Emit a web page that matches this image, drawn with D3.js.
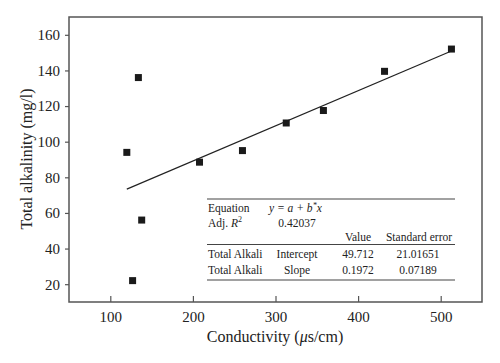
<!DOCTYPE html>
<html>
  <head>
    <meta charset="utf-8" />
    <script src="https://d3js.org/d3.v7.min.js"></script>
    <style>
        body {margin: 0; background: white;}
        text {font-family: "Liberation Serif", "DejaVu Serif", serif; fill: #222;}
    </style>
  </head>
  <body>
    <svg id="viz"></svg>
    <script>
        var width = 500, height = 363;

        // measured points
        var conductivity = [120, 134, 127, 138, 208, 260, 313, 358, 432, 513];
        var alkalinity   = [94, 136, 22, 56, 88.5, 95, 110.5, 117.5, 139.5, 152];
        var xTicks = [100, 200, 300, 400, 500];
        var yTicks = [20, 40, 60, 80, 100, 120, 140, 160];

        // fit result
        var intercept = 49.712, slope = 0.1972;
        var fitRange = [120, 513];
        var tableRows = [
            ["Total Alkali", "Intercept", "49.712", "21.01651"],
            ["Total Alkali", "Slope", "0.1972", "0.07189"]
        ];

        var margin = {left: 69, top: 17, right: 18, bottom: 61};

        var svg = d3.select("#viz")
            .attr("width", width)
            .attr("height", height);

        var x = d3.scaleLinear().domain([50, 550]).range([margin.left, width - margin.right]);
        var y = d3.scaleLinear().domain([10, 170]).range([height - margin.bottom, margin.top]);

        // frame
        svg.append("rect")
            .attr("x", x(50)).attr("y", y(170))
            .attr("width", x(550) - x(50)).attr("height", y(10) - y(170))
            .attr("fill", "none").attr("stroke", "#555").attr("stroke-width", 1.5);

        // x axis, ticks pointing inward
        var xAxis = svg.append("g")
            .attr("transform", "translate(0," + y(10) + ")")
            .call(d3.axisBottom(x).tickValues(xTicks).tickSize(-6).tickPadding(9));
        xAxis.select(".domain").remove();
        xAxis.selectAll("line").attr("stroke", "#555").attr("stroke-width", 1.2);
        xAxis.selectAll("text").attr("font-size", 15).attr("fill", "#222")
            .attr("font-family", "Liberation Serif, serif");

        var yAxis = svg.append("g")
            .attr("transform", "translate(" + x(50) + ",0)")
            .call(d3.axisLeft(y).tickValues(yTicks).tickSize(4).tickPadding(5));
        yAxis.select(".domain").remove();
        yAxis.selectAll("line").attr("stroke", "#555").attr("stroke-width", 1.2);
        yAxis.selectAll("text").attr("font-size", 15).attr("fill", "#222")
            .attr("font-family", "Liberation Serif, serif");

        // axis titles
        var xt = svg.append("text")
            .attr("x", 275).attr("y", 342)
            .attr("text-anchor", "middle").attr("font-size", 16);
        xt.append("tspan").text("Conductivity (");
        xt.append("tspan").attr("font-style", "italic").text("μ");
        xt.append("tspan").text("s/cm)");

        svg.append("text")
            .attr("transform", "translate(32," + 159 + ") rotate(-90)")
            .attr("text-anchor", "middle").attr("font-size", 16)
            .text("Total alkalinity (mg/l)");

        // fit line
        svg.append("line")
            .attr("x1", x(fitRange[0])).attr("y1", y(intercept + slope * fitRange[0]))
            .attr("x2", x(fitRange[1])).attr("y2", y(intercept + slope * fitRange[1]))
            .attr("stroke", "#222").attr("stroke-width", 1.2);

        // markers
        svg.selectAll("rect.pt")
            .data(d3.range(conductivity.length))
            .enter().append("rect")
            .attr("class", "pt")
            .attr("x", function(i) { return x(conductivity[i]) - 3.5; })
            .attr("y", function(i) { return y(alkalinity[i]) - 3.5; })
            .attr("width", 7).attr("height", 7)
            .attr("fill", "#1a1a1a");

        // stats table
        var tb = svg.append("g");
        var tx0 = 207, tx1 = 455;
        [199, 244.5, 280].forEach(function(ly) {
            tb.append("line").attr("x1", tx0).attr("x2", tx1)
                .attr("y1", ly).attr("y2", ly)
                .attr("stroke", "#444").attr("stroke-width", 1.2);
        });
        var fs = 11.5;
        tb.append("text").attr("x", 208).attr("y", 211.5).attr("font-size", fs).text("Equation");
        var eq = tb.append("text").attr("x", 269).attr("y", 211.5).attr("font-size", fs)
            .attr("font-style", "italic");
        eq.append("tspan").text("y = a + b");
        eq.append("tspan").attr("dy", -4).attr("font-size", 8).text("*");
        eq.append("tspan").attr("dy", 4).text("x");

        var r2 = tb.append("text").attr("x", 208).attr("y", 226.5).attr("font-size", fs);
        r2.append("tspan").text("Adj. ");
        r2.append("tspan").attr("font-style", "italic").text("R");
        r2.append("tspan").attr("dy", -5).attr("font-size", 8).text("2");
        tb.append("text").attr("x", 297).attr("y", 226.5).attr("font-size", fs)
            .attr("text-anchor", "middle").text("0.42037");

        tb.append("text").attr("x", 358).attr("y", 240.5).attr("font-size", fs)
            .attr("text-anchor", "middle").text("Value");
        tb.append("text").attr("x", 419).attr("y", 240.5).attr("font-size", fs)
            .attr("text-anchor", "middle").text("Standard error");

        var colX = [208, 297, 358, 418];
        tableRows.forEach(function(row, r) {
            row.forEach(function(cell, c) {
                tb.append("text")
                    .attr("x", colX[c]).attr("y", 258 + r * 15.5)
                    .attr("font-size", fs)
                    .attr("text-anchor", c === 0 ? "start" : "middle")
                    .text(cell);
            });
        });
    </script>
  </body>
</html>
